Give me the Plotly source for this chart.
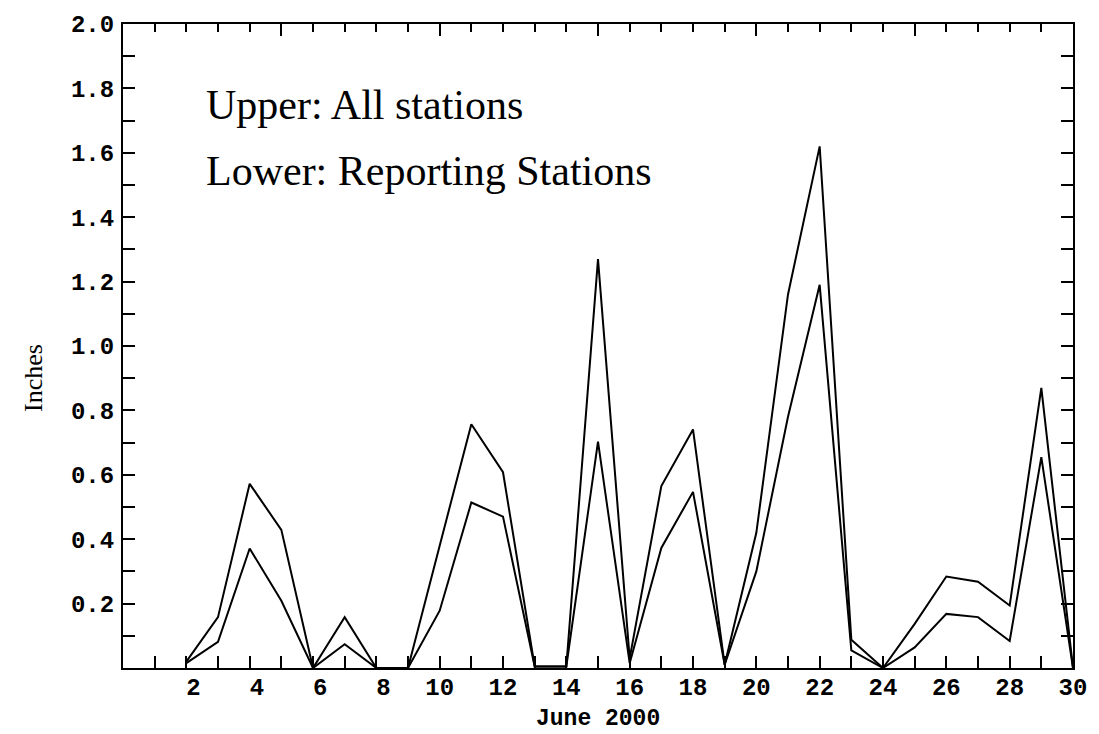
import plotly.graph_objects as go

# Daily precipitation, June 2000 (inches), days 2-30
days = list(range(2, 31))
all_stations = [0.02, 0.158, 0.572, 0.429, 0.0, 0.158, 0.0, 0.0, 0.38,
                0.757, 0.608, 0.005, 0.005, 1.27, 0.03, 0.565, 0.741, 0.01, 0.42,
                1.16, 1.62, 0.088, 0.0, 0.137, 0.284, 0.268, 0.194, 0.87, 0.0]
reporting_stations = [0.015, 0.081, 0.371, 0.209, 0.0, 0.074, 0.0, 0.0, 0.178,
                      0.514, 0.47, 0.005, 0.005, 0.703, 0.015, 0.373, 0.547, 0.01, 0.30,
                      0.78, 1.19, 0.055, 0.0, 0.064, 0.168, 0.158, 0.084, 0.655, 0.0]

x_tick_days = list(range(2, 31, 2))
x_tick_labels = [("\u00a0" + str(d)) if d < 10 else str(d) for d in x_tick_days]
y_tick_vals = [0.2, 0.4, 0.6, 0.8, 1.0, 1.2, 1.4, 1.6, 1.8, 2.0]
y_tick_labels = [f"{v:.1f}" for v in y_tick_vals]

tick_font = dict(family="Liberation Mono", size=24, color="black", weight="bold")

fig = go.Figure()
fig.add_trace(go.Scatter(x=days, y=all_stations, mode="lines",
                         line=dict(color="black", width=2), name="All stations",
                         xaxis="x", yaxis="y"))
fig.add_trace(go.Scatter(x=days, y=reporting_stations, mode="lines",
                         line=dict(color="black", width=2), name="Reporting Stations",
                         xaxis="x2", yaxis="y2"))

axis_common = dict(showline=True, linecolor="black", linewidth=2, showgrid=False,
                   zeroline=False, ticks="inside", tickcolor="black", tickwidth=2)

fig.update_layout(
    width=1099, height=734, autosize=False,
    margin=dict(l=123, r=21, t=17, b=66, pad=0),
    paper_bgcolor="white", plot_bgcolor="white",
    showlegend=False,
    xaxis=dict(range=[0, 30], tickvals=x_tick_days, ticktext=x_tick_labels,
               ticklen=12, tickfont=tick_font, ticklabelstandoff=-4,
               minor=dict(dtick=1, tick0=0, ticks="inside", ticklen=12,
                          tickcolor="black", tickwidth=2),
               **axis_common),
    xaxis2=dict(range=[0, 30], overlaying="x", side="top", anchor="y",
                tickvals=[5, 10, 15, 20, 25], ticklen=12, showticklabels=False,
                minor=dict(dtick=1, tick0=0, ticks="inside", ticklen=8,
                           tickcolor="black", tickwidth=2),
                **axis_common),
    yaxis=dict(range=[0, 2], tickvals=y_tick_vals, ticktext=y_tick_labels,
               ticklen=12, tickfont=tick_font, ticklabelstandoff=2,
               minor=dict(dtick=0.1, tick0=0, ticks="inside", ticklen=12,
                          tickcolor="black", tickwidth=2),
               **axis_common),
    yaxis2=dict(range=[0, 2], overlaying="y", side="right", anchor="x",
                dtick=0.1, tick0=0, ticklen=12, showticklabels=False,
                **axis_common),
)

# Axis titles
fig.add_annotation(text="June 2000", xref="paper", yref="paper", x=0.5, y=-0.0785,
                   xanchor="center", yanchor="middle", showarrow=False,
                   font=dict(family="Liberation Mono", size=23, color="black", weight="bold"))
fig.add_annotation(text="Inches", xref="paper", yref="y", x=-0.095, y=0.9,
                   xanchor="center", yanchor="middle", showarrow=False, textangle=-90,
                   font=dict(family="Liberation Serif", size=26, color="black"))

# Series key
fig.add_annotation(text="Upper: All stations", xref="x", yref="y", x=2.55, y=1.75,
                   xanchor="left", yanchor="middle", showarrow=False,
                   font=dict(family="Liberation Serif", size=42, color="black"))
fig.add_annotation(text="Lower: Reporting Stations", xref="x", yref="y", x=2.55, y=1.545,
                   xanchor="left", yanchor="middle", showarrow=False,
                   font=dict(family="Liberation Serif", size=42, color="black"))

fig.write_html("out.html")
